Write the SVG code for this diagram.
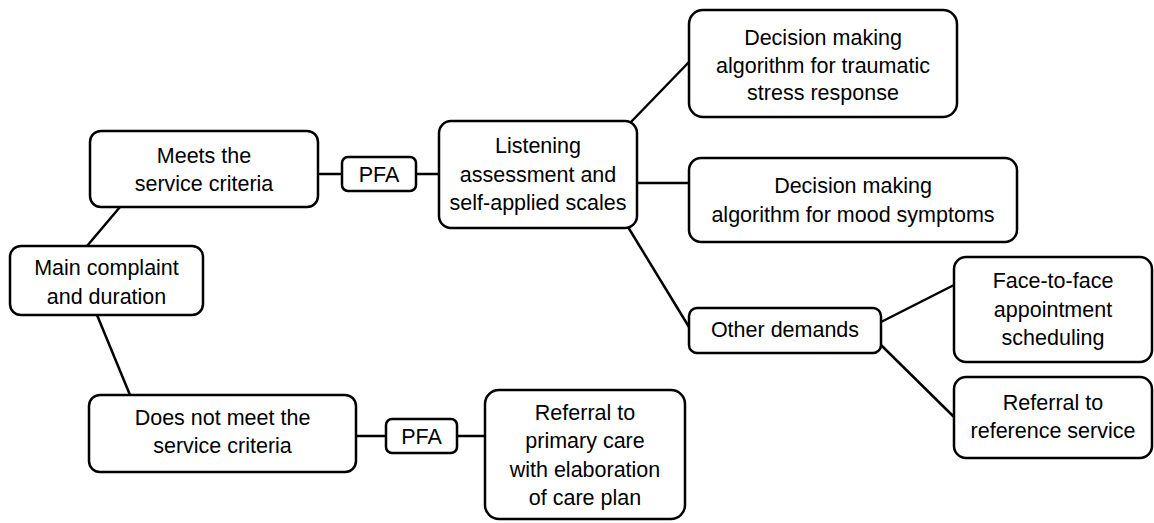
<svg xmlns="http://www.w3.org/2000/svg" width="1154" height="523" viewBox="0 0 1154 523">
<style>
.box{fill:#fff;stroke:#000;stroke-width:2.5}
.lnk{stroke:#000;stroke-width:2.5;fill:none}
text{font-family:"Liberation Sans",Arial,sans-serif;font-size:21.5px;fill:#000;text-anchor:middle}
</style>
<rect width="1154" height="523" fill="#fff"/>
<g id="connectors">
<line class="lnk" x1="120" y1="207" x2="87" y2="246"/>
<line class="lnk" x1="97" y1="315" x2="130" y2="395"/>
<line class="lnk" x1="318" y1="174" x2="342" y2="174"/>
<line class="lnk" x1="416" y1="174" x2="439" y2="174"/>
<line class="lnk" x1="630" y1="123" x2="689" y2="62"/>
<line class="lnk" x1="637" y1="183" x2="689" y2="183"/>
<line class="lnk" x1="628" y1="227" x2="689" y2="327"/>
<line class="lnk" x1="881" y1="322" x2="954" y2="285"/>
<line class="lnk" x1="881" y1="345" x2="954" y2="417"/>
<line class="lnk" x1="356" y1="436" x2="386" y2="436"/>
<line class="lnk" x1="457" y1="436" x2="485" y2="436"/>
</g>
<g id="main">
<rect class="box" x="10" y="246" width="193" height="69" rx="11"/>
<text x="106.5" y="275">Main complaint</text>
<text x="106.5" y="304">and duration</text>
</g>
<g id="meets">
<rect class="box" x="90" y="131" width="228" height="76" rx="11"/>
<text x="204" y="163">Meets the</text>
<text x="204" y="191">service criteria</text>
</g>
<g id="pfa1">
<rect class="box" x="342" y="157" width="74" height="34" rx="6"/>
<text x="379" y="182">PFA</text>
</g>
<g id="listening">
<rect class="box" x="439" y="121" width="198" height="107" rx="12"/>
<text x="538" y="153">Listening</text>
<text x="538" y="182">assessment and</text>
<text x="538" y="210">self-applied scales</text>
</g>
<g id="traumatic">
<rect class="box" x="689" y="10" width="268" height="107" rx="14"/>
<text x="823" y="45">Decision making</text>
<text x="823" y="73">algorithm for traumatic</text>
<text x="823" y="100">stress response</text>
</g>
<g id="mood">
<rect class="box" x="689" y="158" width="328" height="84" rx="12"/>
<text x="853" y="193">Decision making</text>
<text x="853" y="222">algorithm for mood symptoms</text>
</g>
<g id="other">
<rect class="box" x="689" y="308" width="192" height="45" rx="8"/>
<text x="785" y="337">Other demands</text>
</g>
<g id="face">
<rect class="box" x="954" y="257" width="198" height="105" rx="12"/>
<text x="1053" y="288">Face-to-face</text>
<text x="1053" y="317">appointment</text>
<text x="1053" y="345">scheduling</text>
</g>
<g id="refservice">
<rect class="box" x="954" y="377" width="198" height="81" rx="12"/>
<text x="1053" y="410">Referral to</text>
<text x="1053" y="438">reference service</text>
</g>
<g id="notmeet">
<rect class="box" x="89" y="395" width="267" height="77" rx="11"/>
<text x="222.5" y="425">Does not meet the</text>
<text x="222.5" y="453">service criteria</text>
</g>
<g id="pfa2">
<rect class="box" x="386" y="419" width="71" height="34" rx="6"/>
<text x="421.5" y="444">PFA</text>
</g>
<g id="primary">
<rect class="box" x="485" y="390" width="200" height="129" rx="14"/>
<text x="585" y="420">Referral to</text>
<text x="585" y="448">primary care</text>
<text x="585" y="477">with elaboration</text>
<text x="585" y="505">of care plan</text>
</g>
</svg>
